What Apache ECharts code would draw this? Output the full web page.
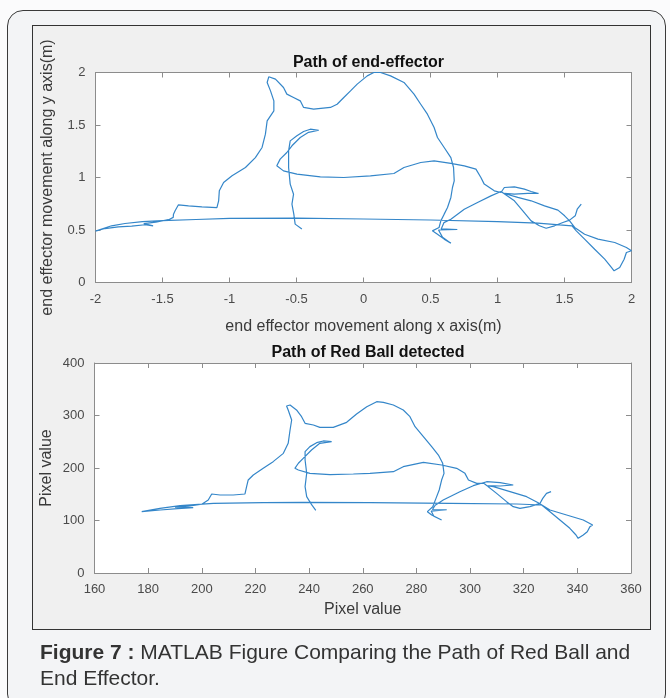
<!DOCTYPE html>
<html><head><meta charset="utf-8">
<script src="https://cdn.jsdelivr.net/npm/echarts@6/dist/echarts.min.js"></script>
<style>
html,body{margin:0;padding:0;background:#fbfbfc;}
#wrap{position:relative;width:670px;height:698px;overflow:hidden;}
#outer{position:absolute;left:7px;top:10px;width:659px;height:700px;border:1.3px solid #3a3a3a;border-radius:16px;background:#f3f4f6;box-sizing:border-box;}
#inner{position:absolute;left:32px;top:25px;width:619px;height:605px;border:1.3px solid #333;background:#f0f0f0;box-sizing:border-box;}
#c{position:absolute;left:0;top:0;width:670px;height:698px;}
</style>
</head><body><div id="wrap"><div id="outer"></div><div id="inner"></div><div id="c"></div></div>
<script>
// ---- Data: end-effector path (m), in drawing order ----
const endEffectorPath = [
[-0.46,0.51],[-0.51,0.556],[-0.52,0.651],[-0.534,0.746],[-0.522,0.841],[-0.547,0.937],[-0.559,1.095],[-0.559,1.254],[-0.547,1.349],[-0.497,1.397],[-0.447,1.438],[-0.397,1.46],[-0.334,1.45],[-0.41,1.43],[-0.472,1.381],[-0.534,1.302],[-0.572,1.238],[-0.622,1.175],[-0.647,1.111],[-0.647,1.095],[-0.597,1.063],[-0.497,1.032],[-0.322,1.006],[-0.147,1.0],[0.052,1.016],[0.227,1.038],[0.302,1.095],[0.427,1.143],[0.527,1.159],[0.652,1.135],[0.752,1.111],[0.839,1.08],[0.876,1.0],[0.901,0.937],[0.976,0.873],[1.026,0.857],[1.051,0.905],[1.126,0.911],[1.201,0.889],[1.251,0.867],[1.306,0.848],[1.226,0.848],[1.126,0.841],[1.051,0.848],[1.151,0.81],[1.251,0.778],[1.351,0.73],[1.451,0.689],[1.501,0.635],[1.538,0.587],[1.576,0.524],[1.65,0.46],[1.75,0.413],[1.875,0.381],[1.962,0.333],[2.0,0.302],[1.962,0.286],[1.945,0.222],[1.912,0.143],[1.87,0.111],[1.85,0.143],[1.80,0.222],[1.725,0.317],[1.65,0.413],[1.588,0.492],[1.556,0.54],[1.3,0.565],[1.0,0.58],[0.5,0.595],[0,0.605],[-0.5,0.613],[-1.0,0.61],[-1.25,0.6],[-1.5,0.59],[-1.65,0.58],[-1.78,0.562],[-1.88,0.54],[-2.0,0.49],
[-1.93,0.514],[-1.83,0.53],[-1.73,0.537],[-1.63,0.55],[-1.57,0.54],[-1.64,0.56],[-1.55,0.575],[-1.45,0.6],[-1.42,0.62],[-1.418,0.651],[-1.406,0.683],[-1.381,0.74],[-1.306,0.73],[-1.206,0.721],[-1.094,0.714],[-1.081,0.778],[-1.076,0.873],[-1.044,0.952],[-0.981,1.016],[-0.881,1.095],[-0.807,1.19],[-0.757,1.286],[-0.732,1.413],[-0.719,1.54],[-0.669,1.635],[-0.669,1.73],[-0.694,1.825],[-0.719,1.905],[-0.707,1.959],[-0.657,1.937],[-0.597,1.857],[-0.572,1.794],[-0.522,1.762],[-0.472,1.73],[-0.447,1.667],[-0.372,1.651],[-0.247,1.667],[-0.197,1.698],[-0.147,1.762],[-0.097,1.825],[-0.047,1.889],[0.028,1.968],[0.077,2.0],[0.127,2.0],[0.202,1.968],[0.302,1.905],[0.377,1.794],[0.427,1.698],[0.477,1.603],[0.527,1.476],[0.552,1.381],[0.602,1.286],[0.652,1.19],[0.672,1.095],[0.677,0.968],[0.664,0.905],[0.652,0.81],[0.627,0.714],[0.602,0.651],[0.577,0.587],[0.564,0.524],[0.514,0.492],[0.552,0.46],[0.602,0.413],[0.652,0.375],[0.59,0.43],[0.56,0.5],[0.70,0.505],[0.58,0.51],[0.6,0.57],[0.652,0.603],[0.752,0.698],[0.851,0.762],[0.951,0.825],[1.026,0.867],[1.126,0.778],[1.189,0.683],[1.251,0.587],[1.313,0.54],[1.363,0.517],[1.426,0.54],[1.488,0.571],[1.538,0.594],[1.58,0.635],[1.595,0.698],[1.625,0.746]
];
// ---- Data: red ball path (pixels), in drawing order ----
const redBallPath = [
[242.5,119.5],[241,129.6],[239.1,145.4],[238.5,164.5],[239.1,189.9],[238.5,215.3],[238.5,231.1],[240.3,240.7],[242.8,248.3],[245.3,251.5],[248.4,250.2],[244,247],[240.9,234.3],[237.8,218.4],[236,209],[234.7,199.4],[236,196.2],[240.3,189.9],[247.8,187.3],[256.5,188.6],[262.7,189.9],[271.4,193],[275.1,202.5],[282.6,210.8],[289.4,205.7],[295,199.4],[298.1,189.8],[299.4,177.1],[302.5,170.8],[304.3,170.8],[306.2,173.9],[311.2,172],[316.1,167.6],[311.2,165.7],[306.2,166.3],[308.7,164.4],[314.9,154.9],[321.1,145.4],[325.4,133.9],[329.8,120],[336,110.5],[342.2,101],[345.7,91.4],[344.7,88.3],[343.7,78.7],[342.2,72.4],[340.3,66],[339.5,72.4],[337.2,85.1],[333.5,101],[329.8,116.8],[326.7,129.5],[317.4,131.4],[292.5,132.7],[262.7,134],[237.8,134.6],[222.9,134],[204.3,132.7],[191.9,128.2],[184.4,123.2],[177.6,116.8],
[184.5,120],[191,122.5],[196.8,124.4],[190,125.5],[195,127.5],[200,131],[202.4,139],[203.7,150.5],[206.8,148.6],[211.7,148.6],[216.1,150.5],[216.7,164.4],[217.3,177.2],[219.2,186.7],[222.9,199.4],[226.6,212.1],[230.4,227.9],[232.2,247],[232.9,272.4],[233.5,291.4],[232.2,310.5],[231.6,318.1],[232.9,320],[235.3,310.5],[237.2,297.8],[238.5,285.1],[241.6,281.9],[244,277.4],[249,277.4],[254,287],[257.7,303],[261.5,316.8],[265.2,326.3],[267.7,325.1],[271.4,320],[275.1,310.5],[277.6,297.8],[279.5,278.7],[282.6,259.7],[285.7,240.6],[288.2,224.7],[289.8,208.9],[290.3,189.8],[289.4,177.1],[288.5,158.1],[287.3,142.2],[286.1,126.3],[284.1,116.8],[285.7,110.5],[289.4,100.9],[286.5,108],[285.5,118],[291.3,120.5],[286,121],[287,129],[290,139],[296.2,154.9],[301.2,166.3],[304.9,172],[309.9,151.7],[313.6,135.9],[316.1,126.3],[318.6,123.2],[322.3,126.3],[326.1,132.7],[327.1,142.2],[328.5,151.7],[330.2,154.9]
];
// ---- Axis ranges / ticks ----
const topXRange = {min:-2, max:2, interval:0.5};
const topYRange = {min:0, max:2, interval:0.5};
const botXRange = {min:160, max:360, interval:20};
const botYRange = {min:0, max:400, interval:100};
const titles = ['Path of end-effector', 'Path of Red Ball detected'];
const axisNames = {
  topX:'end effector movement along x axis(m)', topY:'end effector movement along y axis(m)',
  botX:'Pixel value', botY:'Pixel value'
};
const caption = ['Figure 7 :', ' MATLAB Figure Comparing the Path of Red Ball and', 'End Effector.'];

const FONT = 'Liberation Sans, Arial, sans-serif';
const frameColor = '#8c8c8c';
const lineColor = '#3486c9';

function mkAxis(range, gridIndex, position, showLabel, name, nameGap) {
  return Object.assign({
    type:'value', gridIndex, position,
    axisLine:{show:true, onZero:false, lineStyle:{color:frameColor, width:1}},
    axisTick:{show:true, inside:true, length:5, lineStyle:{color:frameColor}},
    axisLabel:{show:showLabel, color:'#4a4a4a', fontSize:13, fontFamily:FONT, margin:10},
    splitLine:{show:false},
    name: name || '', nameLocation:'middle', nameGap: nameGap || 0, nameMoveOverlap:false,
    nameTextStyle:{color:'#3a3a3a', fontSize:16, fontFamily:FONT}
  }, range);
}

const chart = echarts.init(document.getElementById('c'), null, {renderer:'canvas'});
chart.setOption({
  backgroundColor:'transparent',
  animation:false,
  title:[
    {text:titles[0], left:363.5, top:50, textAlign:'center', textStyle:{fontSize:16, fontWeight:'bold', color:'#111', fontFamily:FONT}},
    {text:titles[1], left:363, top:340, textAlign:'center', textStyle:{fontSize:16, fontWeight:'bold', color:'#111', fontFamily:FONT}}
  ],
  grid:[
    {left:95.5, top:72.5, width:536, height:210, show:true, backgroundColor:'#ffffff', borderWidth:0},
    {left:94.5, top:363, width:536.5, height:210, show:true, backgroundColor:'#ffffff', borderWidth:0}
  ],
  xAxis:[
    mkAxis(topXRange, 0, 'bottom', true, axisNames.topX, 36),
    mkAxis(topXRange, 0, 'top', false),
    mkAxis(botXRange, 1, 'bottom', true, axisNames.botX, 29),
    mkAxis(botXRange, 1, 'top', false)
  ],
  yAxis:[
    mkAxis(topYRange, 0, 'left', true, axisNames.topY, 40),
    mkAxis(topYRange, 0, 'right', false),
    mkAxis(botYRange, 1, 'left', true, axisNames.botY, 40),
    mkAxis(botYRange, 1, 'right', false)
  ],
  series:[
    {type:'line', xAxisIndex:0, yAxisIndex:0, data:endEffectorPath, showSymbol:false, symbol:'none',
     lineStyle:{color:lineColor, width:1.2}, silent:true},
    {type:'line', xAxisIndex:2, yAxisIndex:2, data:redBallPath, showSymbol:false, symbol:'none',
     lineStyle:{color:lineColor, width:1.2}, silent:true}
  ],
  graphic:[
    {type:'text', left:40, top:643, style:{
      text:'{b|'+caption[0]+'}{n|'+caption[1]+'}\n{n|'+caption[2]+'}',
      fill:'#333',
      rich:{
        b:{fontWeight:'bold', fontSize:21, fontFamily:FONT, fill:'#333', lineHeight:26},
        n:{fontSize:21, fontFamily:FONT, fill:'#333', lineHeight:26}
      }
    }}
  ]
});
</script></body></html>
